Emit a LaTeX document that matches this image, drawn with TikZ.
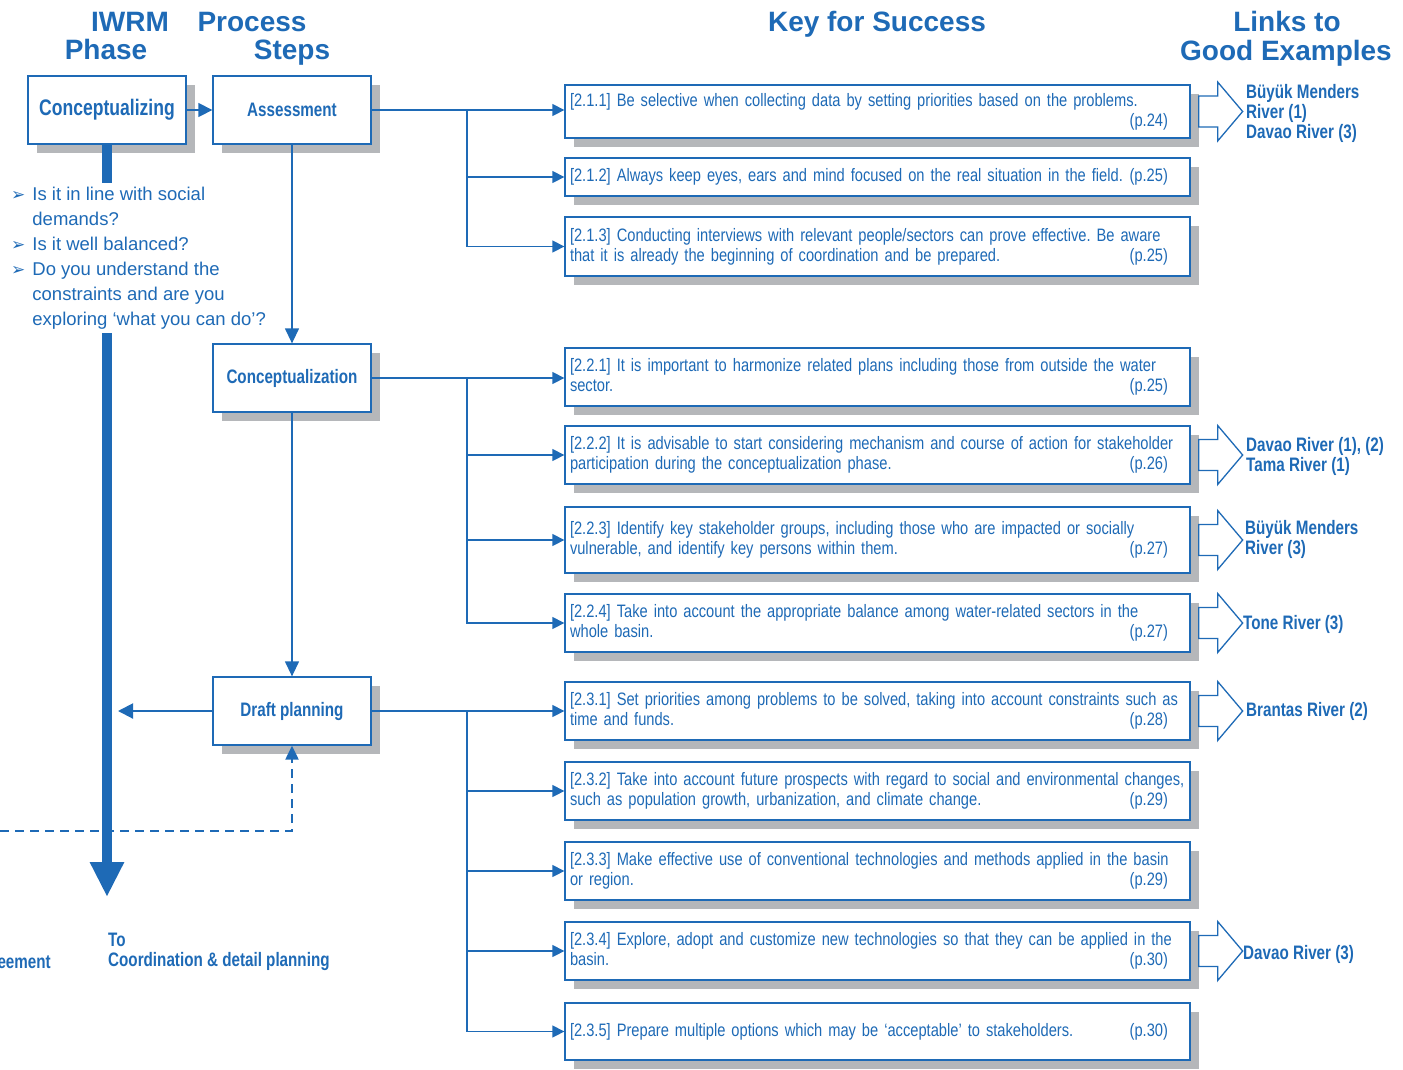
\documentclass[tikz,border=0pt]{standalone}
\usepackage{fontspec}
\setmainfont{Liberation Sans}
\newfontfamily\narrowfont[FakeStretch=0.78]{Liberation Sans}
\newfontfamily\keyfont[FakeStretch=0.815,WordSpace=0.8]{Liberation Sans}
\newfontfamily\symfont{DejaVu Sans}
\usetikzlibrary{arrows.meta,shadows}
\definecolor{iwrmblue}{RGB}{30,106,182}
\definecolor{shadowgray}{RGB}{181,183,186}
\newcommand{\pg}[1]{\hfill(p.#1)\hspace*{17pt}}
\newcommand{\kl}[1]{\mbox{#1}}
\newcommand{\bul}{{\symfont\fontsize{17}{17}\selectfont ➢}}
\newcommand{\goodarrow}[1]{\draw[linkarrow] ([xshift=8pt]#1.east) ++(0,-15.5) -- ++(19,0) -- ++(0,-14) -- ++(25,29.5) -- ++(-25,29.5) -- ++(0,-14) -- ++(-19,0) -- cycle;}
\begin{document}
\begin{tikzpicture}[x=1pt,y=-1pt,
    header/.style={font=\bfseries\fontsize{28}{30}\selectfont, text=iwrmblue, inner sep=0pt},
    stepbox/.style={draw=iwrmblue, line width=1.3pt, fill=white,
        drop shadow={shadow xshift=9pt,shadow yshift=-9pt,fill=shadowgray,opacity=1},
        minimum width=158pt, minimum height=68pt, text=iwrmblue,
        font=\narrowfont\bfseries\fontsize{19.5}{22}\selectfont},
    keybox/.style={draw=iwrmblue, line width=1.3pt, fill=white,
        drop shadow={shadow xshift=9pt,shadow yshift=-9pt,fill=shadowgray,opacity=1},
        text width=615pt, inner xsep=5pt, inner ysep=0pt, align=left, text=iwrmblue,
        font=\keyfont\frenchspacing\fontsize{18}{20}\selectfont},
    link/.style={font=\narrowfont\bfseries\fontsize{19.5}{20}\selectfont, text=iwrmblue,
        align=left, anchor=west, inner sep=0pt},
    linkarrow/.style={draw=iwrmblue, line width=1.3pt, fill=white},
    conn/.style={draw=iwrmblue, line width=1.3pt, -{Triangle[length=12pt,width=12pt]}}]
\useasboundingbox (0,0) rectangle (1403,1069);

% column heads
\node[header, anchor=base] (hiwrm) at (130,31) {IWRM};
\node[header, anchor=base] (hphase) at (106,59) {Phase};
\node[header, anchor=base] (hproc) at (252,31) {Process};
\node[header, anchor=base] (hsteps) at (292,59) {Steps};
\node[header, anchor=base] (hkey) at (877,31) {Key for Success};
\node[header, anchor=base] (hlinks) at (1287,31) {Links to};
\node[header, anchor=base] (hgood) at (1286,60) {Good Examples};

% phase and steps
\node[stepbox, font=\narrowfont\bfseries\fontsize{22.5}{24}\selectfont] (phase) at (107,110) {Conceptualizing};
\node[stepbox] (assess) at (292,110) {Assessment};
\node[stepbox] (cncpt) at (292,378) {Conceptualization};
\node[stepbox] (draft) at (292,711) {Draft planning};

% phase bar
\coordinate (barend) at (107,897);
\draw[iwrmblue, line width=10pt, -{Triangle[length=35pt,width=32pt]}] (phase.south) -- (barend);

\node[anchor=north west, fill=white, inner sep=0pt, text=iwrmblue,
    font=\fontsize{18.5}{25}\selectfont] (quest) at (11,183)
    {\begin{tabular}{@{}l@{\hspace{7pt}}l@{}}
    \bul & Is it in line with social\\
         & demands?\\
    \bul & Is it well balanced?\\
    \bul & Do you understand the\\
         & constraints and are you\\
         & exploring ‘what you can do’?
    \end{tabular}};

\draw[conn, -{Triangle[length=14pt,width=14pt]}] (phase) -- (assess);
\draw[conn, -{Triangle[length=15pt,width=14pt]}] (assess) -- (cncpt);
\draw[conn, -{Triangle[length=15pt,width=14pt]}] (cncpt) -- (draft);

\coordinate (dpend) at (118,711);
\draw[conn, line width=2pt, -{Triangle[length=15pt,width=15pt]}] (draft.west) -- (dpend);
\coordinate (fback) at (0,831);
\draw[draw=iwrmblue, line width=2.2pt, dash pattern=on 9pt off 6pt,
    -{Triangle[length=14pt,width=13pt]}] (fback) -| (draft.south);

\node[link] (tocoord) at (108,952) {\fontsize{19.5}{25}\selectfont To\\Coordination \& detail planning};
\node[link, anchor=east] (agree) at (51,962) {eement};

% keys for success
\node[keybox, minimum height=53pt] (k211) at (877.5,111.5)
    {\kl{[2.1.1] Be selective when collecting data by setting priorities based on the problems.}\\ \pg{24}};
\node[keybox, minimum height=38pt] (k212) at (877.5,177)
    {[2.1.2] Always keep eyes, ears and mind focused on the real situation in the field. \pg{25}};
\node[keybox, minimum height=59pt] (k213) at (877.5,246.5)
    {\kl{[2.1.3] Conducting interviews with relevant people/sectors can prove effective. Be aware}\\
    that it is already the beginning of coordination and be prepared. \pg{25}};
\node[keybox, minimum height=58pt] (k221) at (877.5,377)
    {\kl{[2.2.1] It is important to harmonize related plans including those from outside the water}\\
    sector. \pg{25}};
\node[keybox, minimum height=58pt] (k222) at (877.5,455)
    {\kl{[2.2.2] It is advisable to start considering mechanism and course of action for stakeholder}\\
    participation during the conceptualization phase. \pg{26}};
\node[keybox, minimum height=66pt] (k223) at (877.5,540)
    {\kl{[2.2.3] Identify key stakeholder groups, including those who are impacted or socially}\\
    vulnerable, and identify key persons within them. \pg{27}};
\node[keybox, minimum height=58pt] (k224) at (877.5,623)
    {\kl{[2.2.4] Take into account the appropriate balance among water-related sectors in the}\\
    whole basin. \pg{27}};
\node[keybox, minimum height=58pt] (k231) at (877.5,711)
    {\kl{[2.3.1] Set priorities among problems to be solved, taking into account constraints such as}\\
    time and funds. \pg{28}};
\node[keybox, minimum height=58pt] (k232) at (877.5,791)
    {\kl{[2.3.2] Take into account future prospects with regard to social and environmental changes,}\\
    such as population growth, urbanization, and climate change. \pg{29}};
\node[keybox, minimum height=58pt] (k233) at (877.5,871)
    {\kl{[2.3.3] Make effective use of conventional technologies and methods applied in the basin}\\
    or region. \pg{29}};
\node[keybox, minimum height=58pt] (k234) at (877.5,951)
    {\kl{[2.3.4] Explore, adopt and customize new technologies so that they can be applied in the}\\
    basin. \pg{30}};
\node[keybox, minimum height=57pt] (k235) at (877.5,1031.5)
    {[2.3.5] Prepare multiple options which may be ‘acceptable’ to stakeholders. \pg{30}};

% branches
\coordinate (tr1) at (467,110);
\coordinate (tr2) at (467,378);
\coordinate (tr3) at (467,711);
\draw[conn] (assess.east) -- (assess.east -| k211.west);
\draw[conn] (tr1) |- (k212.west);
\draw[conn] (tr1) |- (k213.west);
\draw[conn] (cncpt.east) -- (cncpt.east -| k221.west);
\foreach \k in {k222,k223,k224}
    \draw[conn] (tr2) |- (\k.west);
\draw[conn] (draft.east) -- (k231.west);
\foreach \k in {k232,k233,k234,k235}
    \draw[conn] (tr3) |- (\k.west);

% links to good examples
\goodarrow{k211}
\goodarrow{k222}
\goodarrow{k223}
\goodarrow{k224}
\goodarrow{k231}
\goodarrow{k234}
\node[link] (l211) at (1246,113) {Büyük Menders\\River (1)\\Davao River (3)};
\node[link] (l222) at (1246,456) {Davao River (1), (2)\\Tama River (1)};
\node[link] (l223) at (1245,539) {Büyük Menders\\River (3)};
\node[link] (l224) at (1243,624) {Tone River (3)};
\node[link] (l231) at (1246,711) {Brantas River (2)};
\node[link] (l234) at (1243,954) {Davao River (3)};
\end{tikzpicture}
\end{document}
